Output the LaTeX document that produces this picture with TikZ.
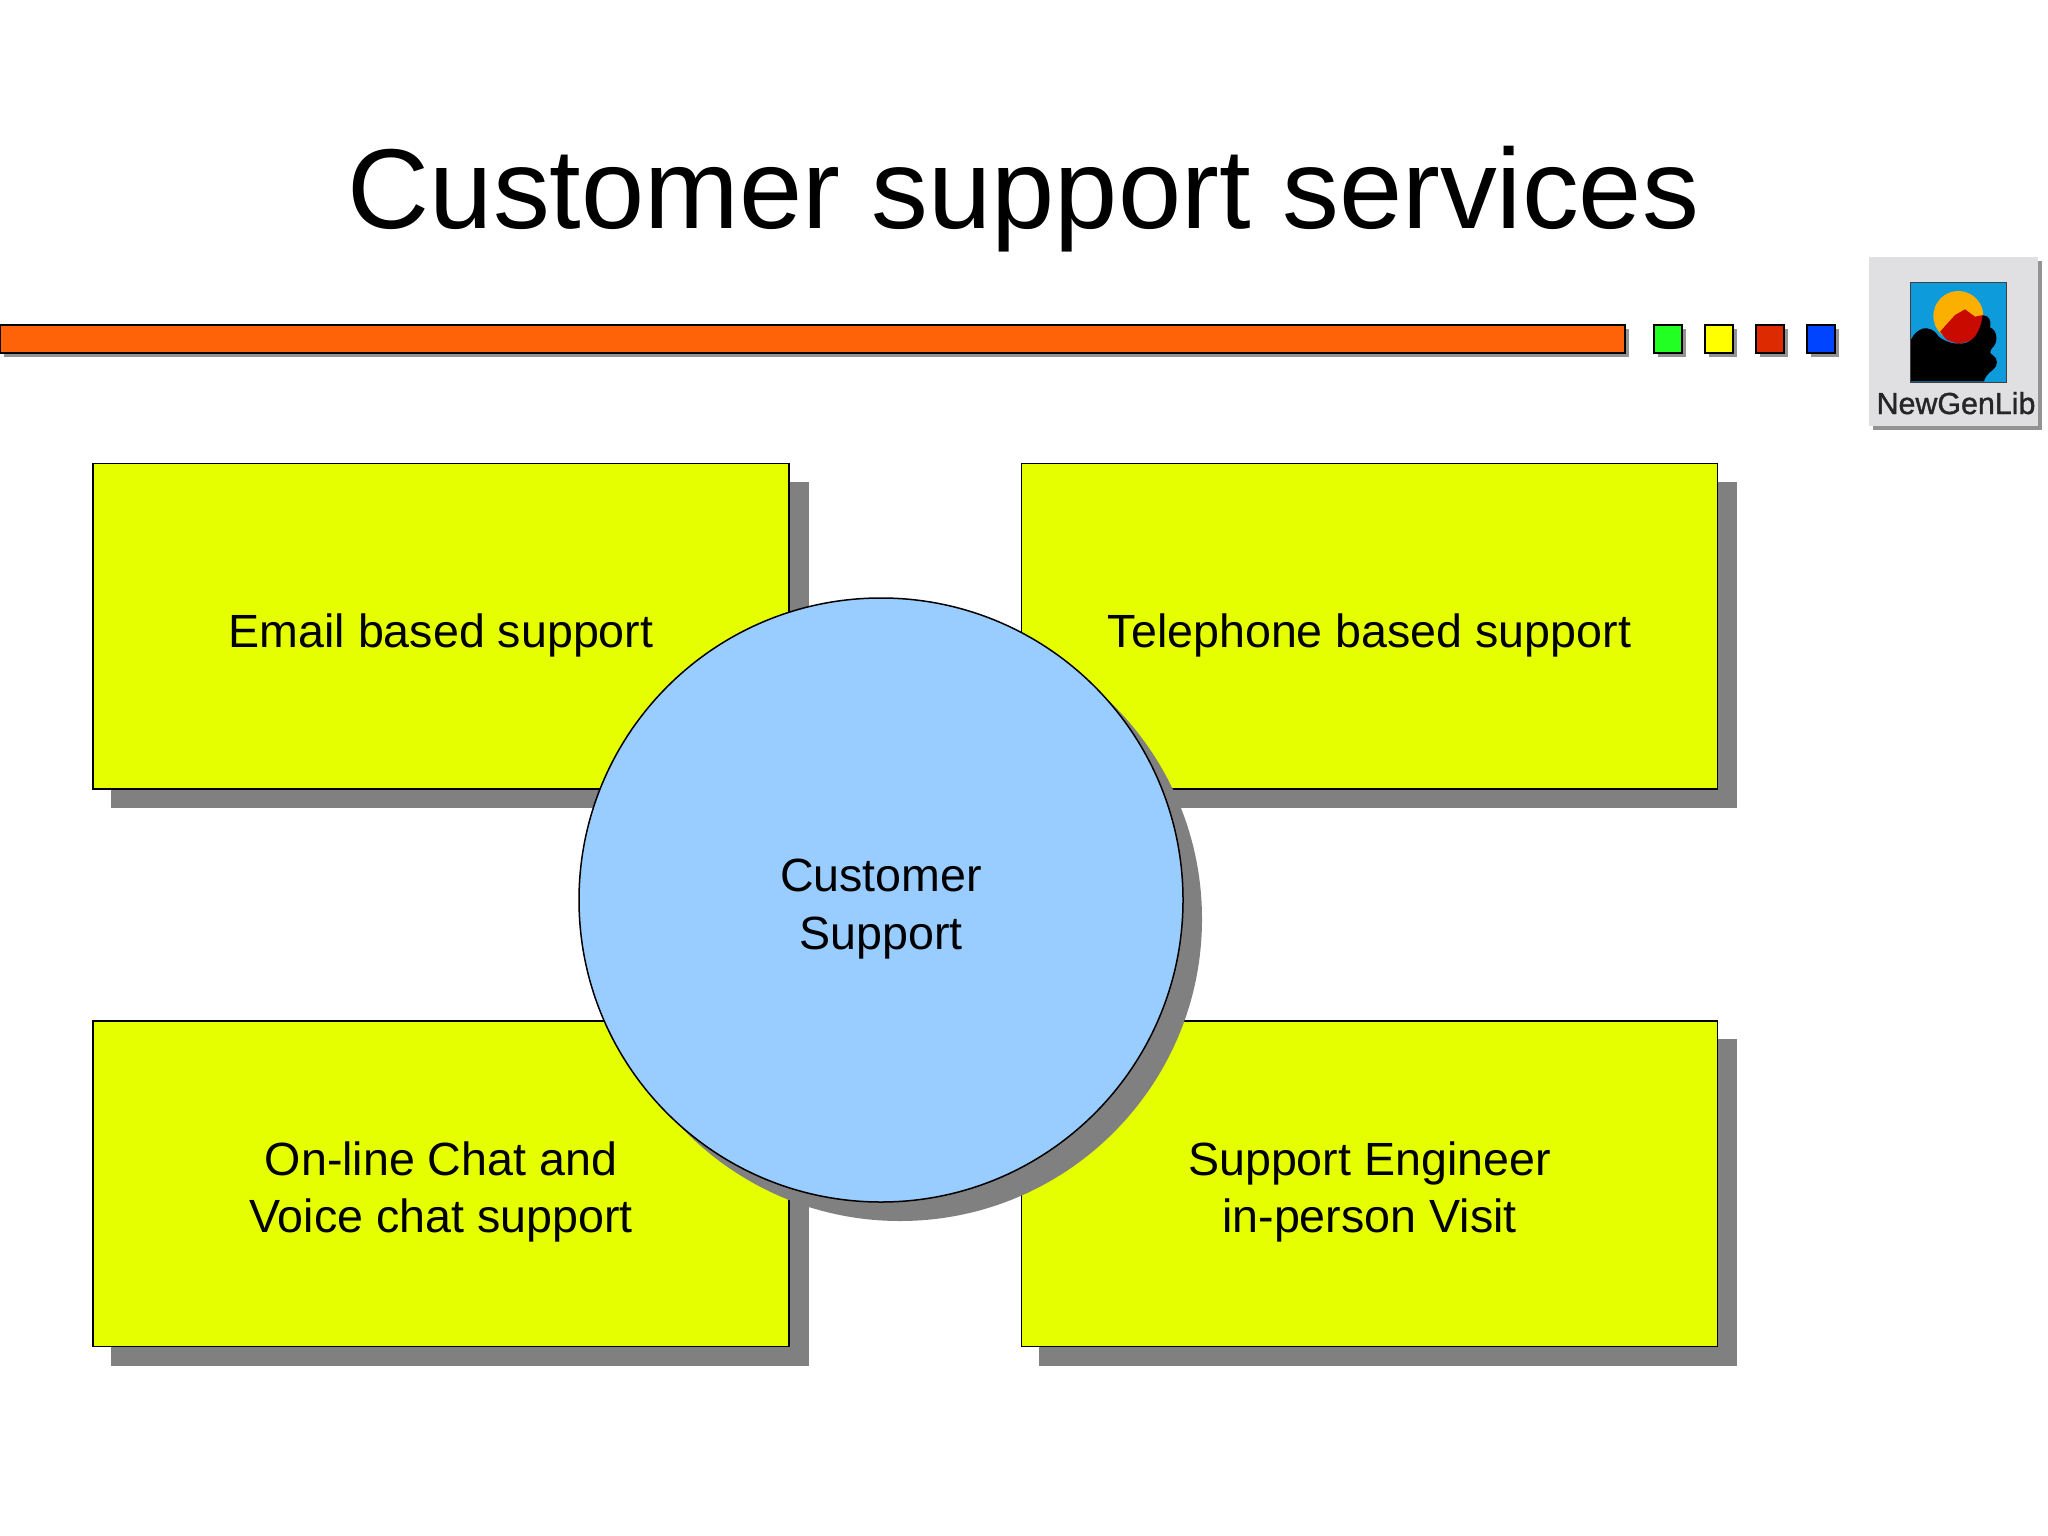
\documentclass[tikz,border=0pt]{standalone}
\usepackage{fontspec}
\setmainfont{Liberation Sans}
\newfontfamily\logofont[FakeBold=1.2]{Liberation Sans}
\definecolor{boxyellow}{HTML}{E6FF00}
\definecolor{hubblue}{HTML}{99CCFF}
\definecolor{barorange}{HTML}{FF6309}
\definecolor{shadowgray}{HTML}{808080}
\definecolor{sqgreen}{HTML}{22FF22}
\definecolor{sqyellow}{HTML}{FFFF00}
\definecolor{sqred}{HTML}{DD2A00}
\definecolor{sqblue}{HTML}{0044FF}
\definecolor{logogray}{HTML}{E0E0E2}
\definecolor{logosky}{HTML}{0E9BDC}
\definecolor{logosun}{HTML}{FBB000}
\definecolor{logored}{HTML}{C80A00}
\tikzset{
  panel/.style={draw=black,line width=0.75pt,fill=boxyellow,rectangle,minimum width=348pt,minimum height=162.75pt,inner sep=0pt},
  panelshadow/.style={fill=shadowgray,draw=none,rectangle,minimum width=349pt,minimum height=163.25pt,inner sep=0pt},
  hub/.style={draw=black,line width=0.75pt,fill=hubblue,circle,minimum size=302pt,inner sep=0pt},
  hubshadow/.style={fill=shadowgray,draw=none,circle,minimum size=302pt,inner sep=0pt},
  lbl/.style={font=\fontsize{23.3pt}{28.8pt}\selectfont,align=center,anchor=center,inner sep=0pt},
  tick/.style={draw=black,line width=1pt,rectangle,minimum width=14pt,minimum height=14pt,inner sep=0pt},
  tickshadow/.style={fill=shadowgray!85,draw=none,rectangle,minimum width=14pt,minimum height=14pt,inner sep=0pt},
}
\begin{document}
\begin{tikzpicture}[x=0.5pt,y=-0.5pt]
\useasboundingbox[fill=white] (0,0) rectangle (2048,1535);
% title
\node[font=\fontsize{56.8pt}{60pt}\selectfont,anchor=base,inner sep=0pt] (title) at (1023.5,229) {Customer support services};
% rule
\fill[shadowgray!85] (4,329) rectangle (1629,357);
\draw[fill=barorange,line width=1pt] (0,325) rectangle (1625,353);
% ticks
\node[tickshadow] (sa) at (1672,343) {};
\node[tick,fill=sqgreen] (a) at (1668,339) {};
\node[tickshadow] (sb) at (1723,343) {};
\node[tick,fill=sqyellow] (b) at (1719,339) {};
\node[tickshadow] (sc) at (1774,343) {};
\node[tick,fill=sqred] (c) at (1770,339) {};
\node[tickshadow] (sd) at (1825,343) {};
\node[tick,fill=sqblue] (d) at (1821,339) {};
% logo
\fill[shadowgray!85] (1873,261) rectangle (2042,430);
\fill[logogray] (1869,257) rectangle (2038,426);
\begin{scope}[shift={(1840,240)},x=0.16667pt,y=-0.16667pt]
  \fill[logosky] (210,127) rectangle (500,426);
  \fill[logosun] (355,228) circle [radius=75*1];
  \fill[logored] (300,275) -- (345,225) -- (375,208) -- (405,230) -- (430,225)
     -- (430,270) -- (400,300) -- (355,312) -- (320,300) -- cycle;
  \fill[black] (212,300) .. controls (222,280) and (240,262) .. (262,265)
     .. controls (280,268) and (290,280) .. (296,290)
     .. controls (315,305) and (345,315) .. (370,310)
     .. controls (400,305) and (420,280) .. (428,226)
     .. controls (445,225) and (455,240) .. (450,262)
     .. controls (470,270) and (475,300) .. (462,318)
     .. controls (445,335) and (450,342) .. (458,345)
     .. controls (475,355) and (475,378) .. (458,390)
     .. controls (445,400) and (435,410) .. (432,424)
     -- (212,424) -- cycle;
  \draw[black!75,line width=0.5pt] (210,127) rectangle (500,426);
\end{scope}
\node[font=\logofont\fontsize{15.2pt}{16pt}\selectfont,text=black!85,anchor=base,inner sep=0pt] (logotext) at (1956,414) {NewGenLib};
% panels
\node[panelshadow] (s1) at (459.5,645.2) {};
\node[panelshadow] (s2) at (1387.7,645.2) {};
\node[panelshadow] (s3) at (459.5,1202.3) {};
\node[panelshadow] (s4) at (1387.7,1202.3) {};
\node[panel] (p1) at (441,626.4) {};
\node[panel] (p2) at (1369.5,626.4) {};
\node[panel] (p3) at (441,1183.8) {};
\node[panel] (p4) at (1369.5,1183.8) {};
\node[lbl] (t1) at (441,635) {Email based support};
\node[lbl] (t2) at (1369.5,635) {Telephone based support};
\node[lbl] (t3) at (441,1192) {On-line Chat and\\Voice chat support};
\node[lbl] (t4) at (1369.5,1192) {Support Engineer\\in-person Visit};
% hub
\node[hubshadow] (hs) at (900,919) {};
\node[hub] (hub) at (881,900) {};
\node[lbl] (ht) at (881,909) {Customer\\Support};
\end{tikzpicture}
\end{document}
